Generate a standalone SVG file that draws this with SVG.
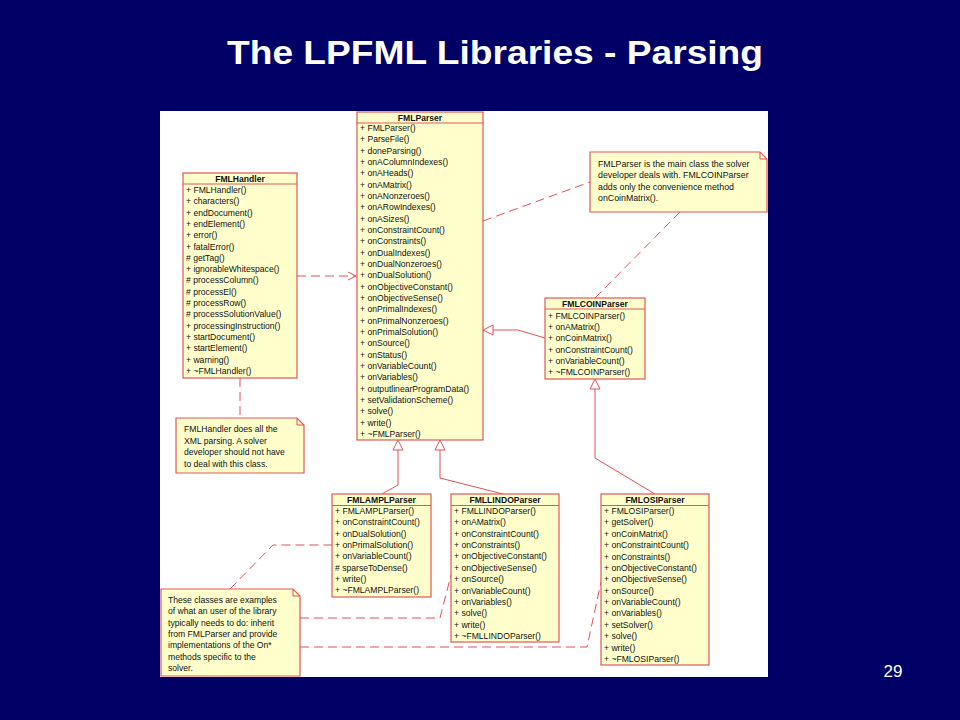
<svg xmlns="http://www.w3.org/2000/svg" width="960" height="720" viewBox="0 0 960 720">
<defs>
<style>
.box{fill:#ffffcc;stroke:#e0585a;stroke-width:1.2}
.hl{stroke:#e0585a;stroke-width:1}
.t{font-family:"Liberation Sans",Arial,sans-serif;font-size:8.6px;fill:#111}
.n{font-family:"Liberation Sans",Arial,sans-serif;font-size:8.8px;fill:#111}
.h{font-family:"Liberation Sans",Arial,sans-serif;font-size:8.6px;font-weight:bold;fill:#111;text-anchor:middle}
.solid{fill:none;stroke:#e0505a;stroke-width:1}
.dash{fill:none;stroke:#e0505a;stroke-width:1;stroke-dasharray:9,5}
.tri{fill:#ffffff;stroke:#e0505a;stroke-width:1}
</style>
<marker id="open" markerWidth="10" markerHeight="10" refX="9" refY="5" orient="auto" markerUnits="userSpaceOnUse">
<path d="M1,1 L9,5 L1,9" fill="none" stroke="#e0505a" stroke-width="1"/>
</marker>
</defs>
<rect width="960" height="720" fill="#000066"/>
<text x="495" y="64" font-family="Liberation Sans,Arial,sans-serif" font-size="34" font-weight="bold" fill="#ffffff" text-anchor="middle" textLength="536" lengthAdjust="spacingAndGlyphs">The LPFML Libraries - Parsing</text>
<rect x="160" y="111" width="608" height="566" fill="#ffffff"/>

<g id="connectors">
<line class="dash" x1="297" y1="276" x2="356" y2="276" marker-end="url(#open)"/>
<line class="dash" x1="483" y1="221" x2="590" y2="182"/>
<line class="dash" x1="680" y1="212" x2="595" y2="298"/>
<polyline class="solid" points="545,338 518,330 493,330"/>
<polygon class="tri" points="483,330 493,325 493,335"/>
<line class="dash" x1="240" y1="378" x2="240" y2="418"/>
<polyline class="solid" points="382,494 398,485 398,450"/>
<polygon class="tri" points="398,440 393,450 403,450"/>
<polyline class="solid" points="503,494 440,478 440,450"/>
<polygon class="tri" points="440,440 435,450 445,450"/>
<polyline class="solid" points="655,494 595,458 595,389"/>
<polygon class="tri" points="595,379 590,389 600,389"/>
<polyline class="dash" points="230,589 273,545 332,545"/>
<polyline class="dash" points="300,618 440,618 451,575"/>
<polyline class="dash" points="300,647 587,647 601,582"/>
</g>

<g id="FMLParser">
<rect class="box" x="357" y="112" width="126" height="328"/>
<line class="hl" x1="357" y1="123" x2="483" y2="123"/>
<text class="h" x="420" y="120.5">FMLParser</text>
<text class="t" x="360" y="131"><tspan x="360">+ FMLParser()</tspan><tspan x="360" dy="11.33">+ ParseFile()</tspan><tspan x="360" dy="11.33">+ doneParsing()</tspan><tspan x="360" dy="11.33">+ onAColumnIndexes()</tspan><tspan x="360" dy="11.33">+ onAHeads()</tspan><tspan x="360" dy="11.33">+ onAMatrix()</tspan><tspan x="360" dy="11.33">+ onANonzeroes()</tspan><tspan x="360" dy="11.33">+ onARowIndexes()</tspan><tspan x="360" dy="11.33">+ onASizes()</tspan><tspan x="360" dy="11.33">+ onConstraintCount()</tspan><tspan x="360" dy="11.33">+ onConstraints()</tspan><tspan x="360" dy="11.33">+ onDualIndexes()</tspan><tspan x="360" dy="11.33">+ onDualNonzeroes()</tspan><tspan x="360" dy="11.33">+ onDualSolution()</tspan><tspan x="360" dy="11.33">+ onObjectiveConstant()</tspan><tspan x="360" dy="11.33">+ onObjectiveSense()</tspan><tspan x="360" dy="11.33">+ onPrimalIndexes()</tspan><tspan x="360" dy="11.33">+ onPrimalNonzeroes()</tspan><tspan x="360" dy="11.33">+ onPrimalSolution()</tspan><tspan x="360" dy="11.33">+ onSource()</tspan><tspan x="360" dy="11.33">+ onStatus()</tspan><tspan x="360" dy="11.33">+ onVariableCount()</tspan><tspan x="360" dy="11.33">+ onVariables()</tspan><tspan x="360" dy="11.33">+ outputlinearProgramData()</tspan><tspan x="360" dy="11.33">+ setValidationScheme()</tspan><tspan x="360" dy="11.33">+ solve()</tspan><tspan x="360" dy="11.33">+ write()</tspan><tspan x="360" dy="11.33">+ ~FMLParser()</tspan></text>
</g>

<g id="FMLHandler">
<rect class="box" x="183" y="173" width="114" height="205"/>
<line class="hl" x1="183" y1="184" x2="297" y2="184"/>
<text class="h" x="240" y="182">FMLHandler</text>
<text class="t" x="186" y="193"><tspan x="186">+ FMLHandler()</tspan><tspan x="186" dy="11.3">+ characters()</tspan><tspan x="186" dy="11.3">+ endDocument()</tspan><tspan x="186" dy="11.3">+ endElement()</tspan><tspan x="186" dy="11.3">+ error()</tspan><tspan x="186" dy="11.3">+ fatalError()</tspan><tspan x="186" dy="11.3"># getTag()</tspan><tspan x="186" dy="11.3">+ ignorableWhitespace()</tspan><tspan x="186" dy="11.3"># processColumn()</tspan><tspan x="186" dy="11.3"># processEl()</tspan><tspan x="186" dy="11.3"># processRow()</tspan><tspan x="186" dy="11.3"># processSolutionValue()</tspan><tspan x="186" dy="11.3">+ processingInstruction()</tspan><tspan x="186" dy="11.3">+ startDocument()</tspan><tspan x="186" dy="11.3">+ startElement()</tspan><tspan x="186" dy="11.3">+ warning()</tspan><tspan x="186" dy="11.3">+ ~FMLHandler()</tspan></text>
</g>

<g id="FMLCOINParser">
<rect class="box" x="545" y="298" width="100" height="81"/>
<line class="hl" x1="545" y1="309" x2="645" y2="309"/>
<text class="h" x="595" y="307">FMLCOINParser</text>
<text class="t" x="548" y="319"><tspan x="548">+ FMLCOINParser()</tspan><tspan x="548" dy="11.2">+ onAMatrix()</tspan><tspan x="548" dy="11.2">+ onCoinMatrix()</tspan><tspan x="548" dy="11.2">+ onConstraintCount()</tspan><tspan x="548" dy="11.2">+ onVariableCount()</tspan><tspan x="548" dy="11.2">+ ~FMLCOINParser()</tspan></text>
</g>

<g id="FMLAMPLParser">
<rect class="box" x="332" y="494" width="99" height="103"/>
<line class="hl" x1="332" y1="505.5" x2="431" y2="505.5"/>
<text class="h" x="381.5" y="503">FMLAMPLParser</text>
<text class="t" x="335" y="514"><tspan x="335">+ FMLAMPLParser()</tspan><tspan x="335" dy="11.33">+ onConstraintCount()</tspan><tspan x="335" dy="11.33">+ onDualSolution()</tspan><tspan x="335" dy="11.33">+ onPrimalSolution()</tspan><tspan x="335" dy="11.33">+ onVariableCount()</tspan><tspan x="335" dy="11.33"># sparseToDense()</tspan><tspan x="335" dy="11.33">+ write()</tspan><tspan x="335" dy="11.33">+ ~FMLAMPLParser()</tspan></text>
</g>

<g id="FMLLINDOParser">
<rect class="box" x="451" y="494" width="108" height="148"/>
<line class="hl" x1="451" y1="505.5" x2="559" y2="505.5"/>
<text class="h" x="505" y="503">FMLLINDOParser</text>
<text class="t" x="454" y="514"><tspan x="454">+ FMLLINDOParser()</tspan><tspan x="454" dy="11.36">+ onAMatrix()</tspan><tspan x="454" dy="11.36">+ onConstraintCount()</tspan><tspan x="454" dy="11.36">+ onConstraints()</tspan><tspan x="454" dy="11.36">+ onObjectiveConstant()</tspan><tspan x="454" dy="11.36">+ onObjectiveSense()</tspan><tspan x="454" dy="11.36">+ onSource()</tspan><tspan x="454" dy="11.36">+ onVariableCount()</tspan><tspan x="454" dy="11.36">+ onVariables()</tspan><tspan x="454" dy="11.36">+ solve()</tspan><tspan x="454" dy="11.36">+ write()</tspan><tspan x="454" dy="11.36">+ ~FMLLINDOParser()</tspan></text>
</g>

<g id="FMLOSIParser">
<rect class="box" x="601" y="494" width="108" height="171"/>
<line class="hl" x1="601" y1="505.5" x2="709" y2="505.5"/>
<text class="h" x="655" y="503">FMLOSIParser</text>
<text class="t" x="604" y="514"><tspan x="604">+ FMLOSIParser()</tspan><tspan x="604" dy="11.38">+ getSolver()</tspan><tspan x="604" dy="11.38">+ onCoinMatrix()</tspan><tspan x="604" dy="11.38">+ onConstraintCount()</tspan><tspan x="604" dy="11.38">+ onConstraints()</tspan><tspan x="604" dy="11.38">+ onObjectiveConstant()</tspan><tspan x="604" dy="11.38">+ onObjectiveSense()</tspan><tspan x="604" dy="11.38">+ onSource()</tspan><tspan x="604" dy="11.38">+ onVariableCount()</tspan><tspan x="604" dy="11.38">+ onVariables()</tspan><tspan x="604" dy="11.38">+ setSolver()</tspan><tspan x="604" dy="11.38">+ solve()</tspan><tspan x="604" dy="11.38">+ write()</tspan><tspan x="604" dy="11.38">+ ~FMLOSIParser()</tspan></text>
</g>

<g id="noteParser">
<path class="box" d="M590,152 H760 L767,159 V212 H590 Z"/>
<path class="solid" d="M760,152 V159 H767"/>
<text class="n" x="598" y="167"><tspan x="598">FMLParser is the main class the solver</tspan><tspan x="598" dy="11.3">developer deals with. FMLCOINParser</tspan><tspan x="598" dy="11.3">adds only the convenience method</tspan><tspan x="598" dy="11.3">onCoinMatrix().</tspan></text>
</g>

<g id="noteHandler">
<path class="box" d="M176,418 H297 L304,425 V473 H176 Z"/>
<path class="solid" d="M297,418 V425 H304"/>
<text class="t" x="184" y="432"><tspan x="184">FMLHandler does all the</tspan><tspan x="184" dy="11.5">XML parsing. A solver</tspan><tspan x="184" dy="11.5">developer should not have</tspan><tspan x="184" dy="11.5">to deal with this class.</tspan></text>
</g>

<g id="noteExamples">
<path class="box" d="M161,589 H293 L300,596 V676 H161 Z"/>
<path class="solid" d="M293,589 V596 H300"/>
<text class="t" x="168" y="603"><tspan x="168">These classes are examples</tspan><tspan x="168" dy="11.3">of what an user of the library</tspan><tspan x="168" dy="11.3">typically needs to do: inherit</tspan><tspan x="168" dy="11.3">from FMLParser and provide</tspan><tspan x="168" dy="11.3">implementations of the On*</tspan><tspan x="168" dy="11.3">methods specific to the</tspan><tspan x="168" dy="11.3">solver.</tspan></text>
</g>

<text x="893" y="677" font-family="Liberation Sans,Arial,sans-serif" font-size="17" fill="#ffffff" text-anchor="middle">29</text>
</svg>
